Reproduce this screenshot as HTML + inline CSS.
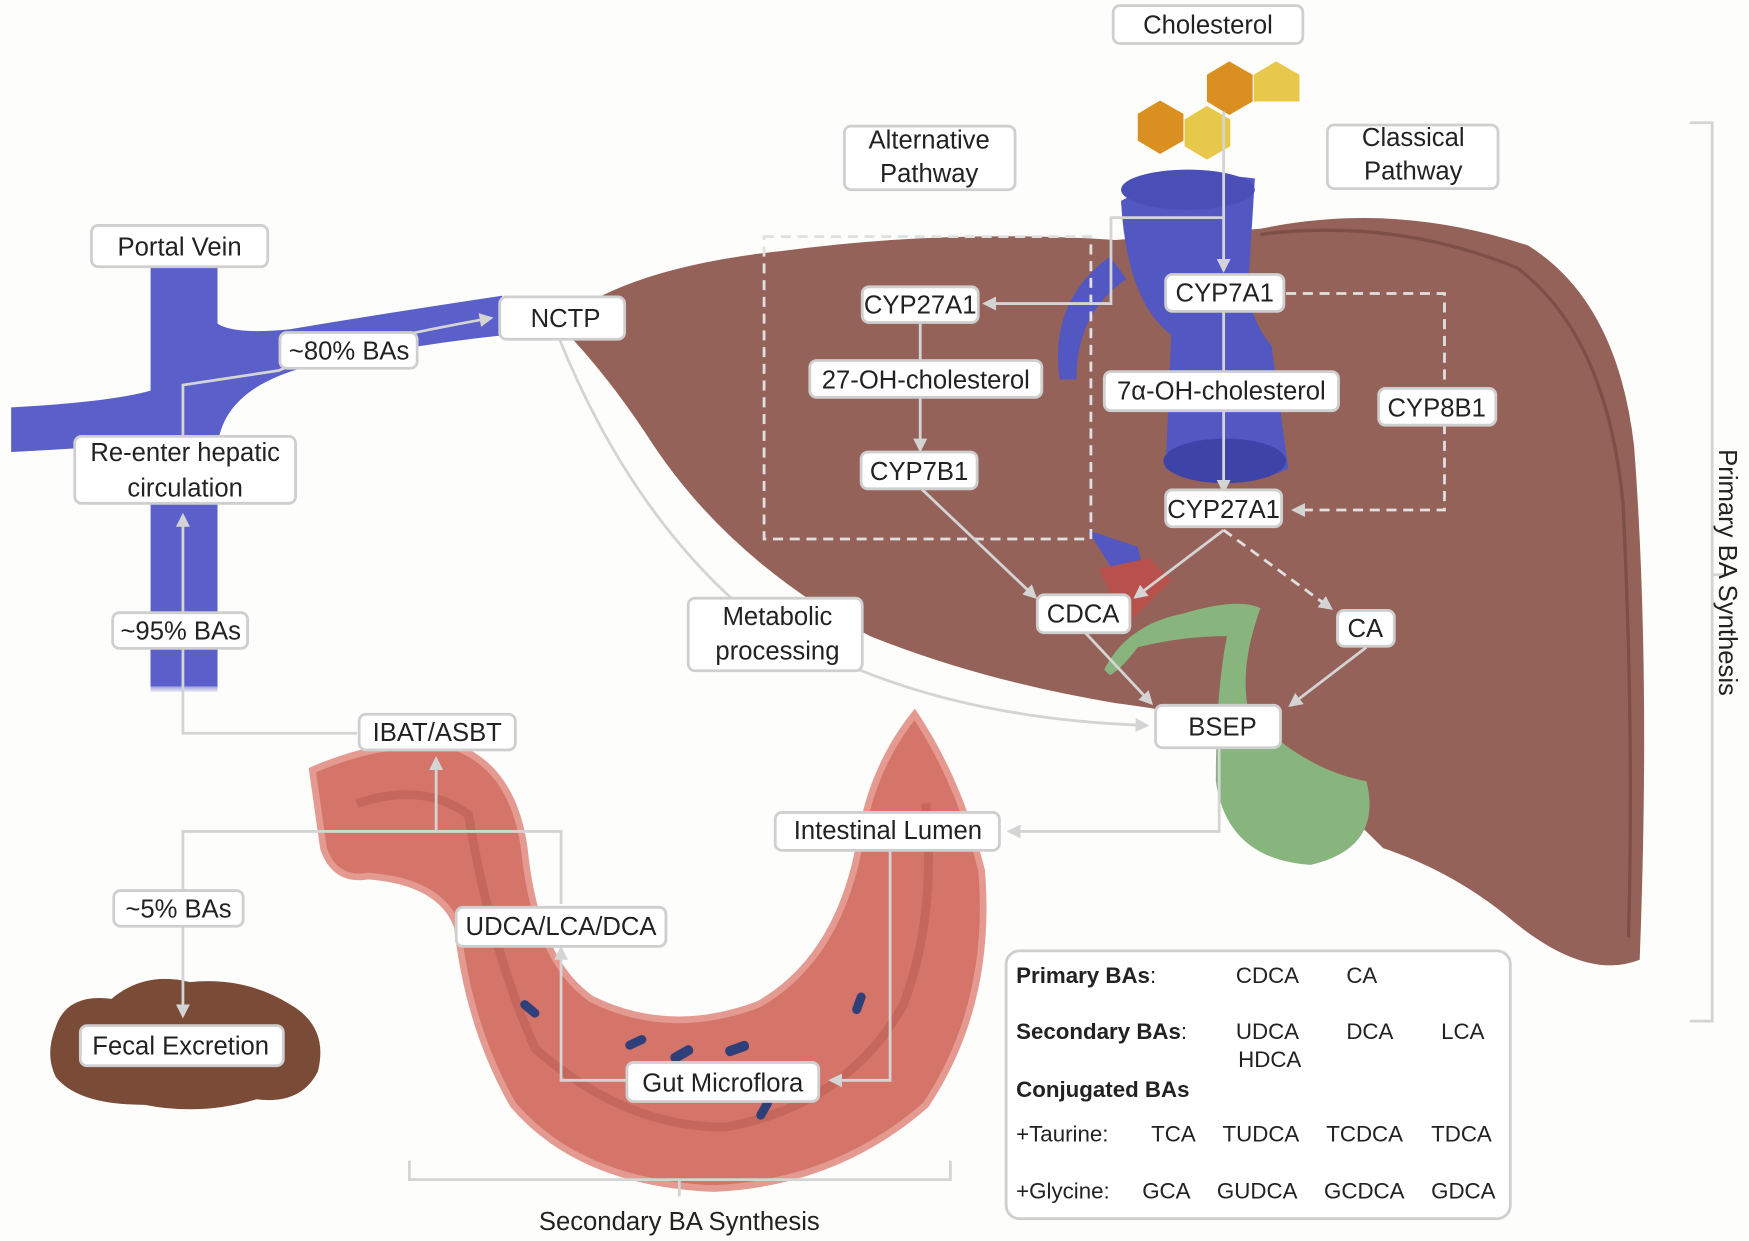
<!DOCTYPE html>
<html><head><meta charset="utf-8"><style>
html,body{margin:0;padding:0;background:#fdfdfb;}
svg{display:block;}
text{font-family:"Liberation Sans",sans-serif;fill:#222;}
.b{fill:#fff;stroke:#cfcfcf;stroke-width:2.5;}
.l{stroke:#d4d4d4;stroke-width:2.5;fill:none;}
.d{stroke:#e0e0e0;stroke-width:2.5;fill:none;stroke-dasharray:9 6;}
.t{font-size:23px;text-anchor:middle;}
.s{font-size:20px;}
</style></head><body>
<svg width="1749" height="1241" viewBox="0 0 1568 1112" preserveAspectRatio="none" xmlns="http://www.w3.org/2000/svg">
<defs>
<marker id="a" viewBox="0 0 10 10" refX="8" refY="5" markerWidth="5" markerHeight="5" orient="auto"><path d="M0,0L10,5L0,10z" fill="#d4d4d4"/></marker>
<linearGradient id="vf" x1="0" x2="1"><stop offset="0" stop-color="#5b5fc9" stop-opacity="0.2"/><stop offset="0.15" stop-color="#5b5fc9"/></linearGradient>
<linearGradient id="vb" x1="0" y1="0" x2="0" y2="1"><stop offset="0.85" stop-color="#5b5fc9"/><stop offset="1" stop-color="#5b5fc9" stop-opacity="0.1"/></linearGradient>
</defs>
<rect width="1568" height="1112" fill="#fdfdfb"/>
<!-- portal vein -->
<path d="M135,240 L195,240 L195,290 Q210,300 260,295 Q350,280 450,265 L455,300 Q360,310 270,330 Q200,350 195,400 L195,615 L135,615 L135,395 Q110,400 10,405 L10,365 Q100,360 135,350 Z" fill="#5b5fc9"/>
<rect x="135" y="560" width="60" height="60" fill="url(#vb)"/>
<!-- liver -->
<path d="M500,290 Q560,240 700,225 Q850,205 1000,215 L1130,205 Q1250,180 1370,220 Q1450,270 1465,400 Q1480,600 1470,860 Q1420,880 1350,820 Q1300,780 1240,760 Q1180,700 1130,660 Q1080,640 1000,630 Q880,610 780,570 Q650,500 580,390 Q540,330 500,290 Z" fill="#95625a"/>
<path d="M1130,210 Q1250,195 1360,240 Q1440,300 1455,450 Q1465,650 1460,840" fill="none" stroke="#7d4f47" stroke-width="3"/>
<!-- vena cava -->
<path d="M1005,180 Q1060,150 1125,160 L1120,240 Q1115,280 1140,310 L1155,420 Q1100,445 1045,420 L1050,300 Q1010,270 1005,180 Z" fill="#5257c2"/>
<ellipse cx="1065" cy="170" rx="60" ry="18" fill="#4a4fb8"/>
<path d="M995,230 Q940,270 950,340 L965,340 Q965,280 1010,250 Z" fill="#5257c2"/>
<ellipse cx="1098" cy="413" rx="55" ry="20" fill="#3e43a8"/>
<path d="M975,475 L1020,490 L1030,530 L1010,530 Z" fill="#5257c2"/>
<path d="M985,510 L1010,560 L1050,520 L1030,500 Z" fill="#b8504b"/>
<!-- gallbladder -->
<path d="M990,600 Q1010,560 1060,550 Q1110,535 1130,545 Q1110,600 1120,640 Q1170,690 1225,700 Q1240,760 1175,775 Q1100,770 1090,700 Q1090,620 1100,570 Q1060,570 1020,580 Q1005,600 995,605 Z" fill="#88b47e"/>
<!-- cholesterol hexes -->
<g>
<polygon points="1040,90 1061,102 1061,126 1040,138 1020,126 1020,102" fill="#d99020"/>
<polygon points="1082,95 1103,107 1103,131 1082,143 1062,131 1062,107" fill="#e8c84a"/>
<polygon points="1102,55 1123,67 1123,91 1102,103 1082,91 1082,67" fill="#d99020"/>
<polygon points="1144,55 1165,67 1165,91 1144,91 1124,91 1124,67" fill="#e8c84a"/>
</g>
<!-- intestine -->
<path d="M280,690 Q350,660 410,670 Q460,690 470,760 Q480,860 530,895 Q600,930 680,900 Q750,860 770,760 Q780,690 820,640 Q860,700 880,780 Q890,900 830,990 Q750,1060 640,1065 Q520,1060 460,990 Q420,920 410,830 Q395,790 330,785 Q300,790 290,760 Z" fill="#d5756a" stroke="#e49a90" stroke-width="6"/>
<path d="M320,720 Q380,700 420,730 Q440,850 480,940 Q560,1010 650,1010 Q760,990 810,900 Q840,820 830,720" fill="none" stroke="#b85a50" stroke-width="8" opacity=".5"/>
<!-- bacteria -->
<g fill="#2e3f7a">
<rect x="600" y="940" width="22" height="9" rx="4" transform="rotate(-30 611 944)"/>
<rect x="650" y="935" width="22" height="9" rx="4" transform="rotate(-20 661 940)"/>
<rect x="560" y="930" width="20" height="8" rx="4" transform="rotate(-25 570 934)"/>
<rect x="465" y="900" width="20" height="8" rx="4" transform="rotate(40 475 904)"/>
<rect x="760" y="895" width="20" height="8" rx="4" transform="rotate(-70 770 899)"/>
<rect x="675" y="990" width="20" height="8" rx="4" transform="rotate(-60 685 994)"/>
</g>
<!-- feces -->
<path d="M50,920 Q60,890 100,895 Q130,870 170,880 Q220,875 260,900 Q295,920 285,960 Q270,990 230,985 Q180,1000 130,990 Q70,990 50,965 Q40,945 50,920 Z" fill="#7a4c38"/>
<!-- brackets -->
<path d="M1515,110 L1535,110 L1535,915 L1515,915 M1535,515 L1550,515" class="l"/>
<path d="M367,1040 L367,1057 L852,1057 L852,1040 M609,1057 L609,1072" class="l"/>
<!-- dashed boxes -->
<path d="M685,212 L978,212 L978,483 L685,483 Z" class="d"/>
<path d="M1153,263 L1295,263 L1295,340 M1295,380 L1295,457 L1160,457" class="d" marker-end="url(#a)"/>
<path d="M1097,475 L1193,545" class="d" marker-end="url(#a)"/>
<!-- connectors -->
<g class="l">
<path d="M1097,100 L1097,242" marker-end="url(#a)"/>
<path d="M1097,280 L1097,440" marker-end="url(#a)"/>
<path d="M1097,195 L996,195 L996,272 L883,272" marker-end="url(#a)"/>
<path d="M825,290 L825,403" marker-end="url(#a)"/>
<path d="M825,437 L928,535" marker-end="url(#a)"/>
<path d="M1097,475 L1018,535" marker-end="url(#a)"/>
<path d="M973,567 L1032,630" marker-end="url(#a)"/>
<path d="M1225,580 L1157,632" marker-end="url(#a)"/>
<path d="M500,300 Q560,450 660,540"/>
<path d="M770,600 Q880,645 1028,650" marker-end="url(#a)"/>
<path d="M1093,670 L1093,745 L905,745" marker-end="url(#a)"/>
<path d="M798,762 L798,968 L745,968" marker-end="url(#a)"/>
<path d="M563,968 L503,968 L503,850" marker-end="url(#a)"/>
<path d="M503,810 L503,745 L164,745 L164,910" marker-end="url(#a)"/>
<path d="M391,745 L391,680" marker-end="url(#a)"/>
<path d="M320,657 L164,657 L164,462" marker-end="url(#a)"/>
<path d="M164,392 L164,345 L250,332 Q300,310 440,285" marker-end="url(#a)"/>
</g>
<!-- labels -->
<g>
<rect class="b" x="998" y="5" width="170" height="34" rx="6"/><text class="t" x="1083" y="30">Cholesterol</text>
<rect class="b" x="757" y="113" width="153" height="57" rx="6"/><text class="t" x="833" y="133">Alternative</text><text class="t" x="833" y="163">Pathway</text>
<rect class="b" x="1190" y="112" width="153" height="57" rx="6"/><text class="t" x="1267" y="131">Classical</text><text class="t" x="1267" y="161">Pathway</text>
<rect class="b" x="82" y="202" width="158" height="37" rx="6"/><text class="t" x="161" y="229">Portal Vein</text>
<rect class="b" x="448" y="266" width="112" height="38" rx="6"/><text class="t" x="507" y="293">NCTP</text>
<rect class="b" x="251" y="298" width="123" height="32" rx="6"/><text class="t" x="313" y="322">~80% BAs</text>
<rect class="b" x="67" y="391" width="198" height="60" rx="6"/><text class="t" x="166" y="413">Re-enter hepatic</text><text class="t" x="166" y="445">circulation</text>
<rect class="b" x="101" y="549" width="121" height="32" rx="6"/><text class="t" x="162" y="573">~95% BAs</text>
<rect class="b" x="773" y="257" width="104" height="32" rx="6"/><text class="t" x="825" y="281">CYP27A1</text>
<rect class="b" x="1045" y="246" width="106" height="33" rx="6"/><text class="t" x="1098" y="270">CYP7A1</text>
<rect class="b" x="726" y="323" width="208" height="33" rx="6"/><text class="t" x="830" y="348">27-OH-cholesterol</text>
<rect class="b" x="990" y="333" width="210" height="35" rx="6"/><text class="t" x="1095" y="358">7α-OH-cholesterol</text>
<rect class="b" x="1236" y="348" width="105" height="33" rx="6"/><text class="t" x="1288" y="373">CYP8B1</text>
<rect class="b" x="772" y="405" width="104" height="33" rx="6"/><text class="t" x="824" y="430">CYP7B1</text>
<rect class="b" x="1045" y="439" width="104" height="33" rx="6"/><text class="t" x="1097" y="464">CYP27A1</text>
<rect class="b" x="930" y="533" width="83" height="34" rx="6"/><text class="t" x="971" y="558">CDCA</text>
<rect class="b" x="1199" y="547" width="51" height="32" rx="6"/><text class="t" x="1224" y="571">CA</text>
<rect class="b" x="617" y="536" width="156" height="65" rx="6"/><text class="t" x="697" y="560">Metabolic</text><text class="t" x="697" y="591">processing</text>
<rect class="b" x="1036" y="632" width="112" height="38" rx="6"/><text class="t" x="1096" y="659">BSEP</text>
<rect class="b" x="322" y="640" width="140" height="32" rx="6"/><text class="t" x="392" y="664">IBAT/ASBT</text>
<rect class="b" x="695" y="728" width="201" height="34" rx="6"/><text class="t" x="796" y="752">Intestinal Lumen</text>
<rect class="b" x="102" y="798" width="116" height="32" rx="6"/><text class="t" x="160" y="822">~5% BAs</text>
<rect class="b" x="409" y="813" width="188" height="35" rx="6"/><text class="t" x="503" y="838">UDCA/LCA/DCA</text>
<rect class="b" x="72" y="919" width="182" height="36" rx="6"/><text class="t" x="162" y="945">Fecal Excretion</text>
<rect class="b" x="562" y="952" width="172" height="35" rx="6"/><text class="t" x="648" y="978">Gut Microflora</text>
</g>
<text class="t" x="609" y="1102">Secondary BA Synthesis</text>
<text class="t" transform="translate(1541,513) rotate(90)">Primary BA Synthesis</text>
<!-- table -->
<rect class="b" x="902" y="852" width="452" height="240" rx="12"/>
<g class="s">
<text x="911" y="881" font-weight="bold" font-size="20">Primary BAs<tspan font-weight="normal">:</tspan></text>
<text x="1108" y="881">CDCA</text><text x="1207" y="881">CA</text>
<text x="911" y="931" font-weight="bold" font-size="20">Secondary BAs<tspan font-weight="normal">:</tspan></text>
<text x="1108" y="931">UDCA</text><text x="1207" y="931">DCA</text><text x="1292" y="931">LCA</text>
<text x="1110" y="956">HDCA</text>
<text x="911" y="983" font-weight="bold" font-size="20">Conjugated BAs</text>
<text x="911" y="1023">+Taurine:</text><text x="1032" y="1023">TCA</text><text x="1096" y="1023">TUDCA</text><text x="1189" y="1023">TCDCA</text><text x="1283" y="1023">TDCA</text>
<text x="911" y="1074">+Glycine:</text><text x="1024" y="1074">GCA</text><text x="1091" y="1074">GUDCA</text><text x="1187" y="1074">GCDCA</text><text x="1283" y="1074">GDCA</text>
</g>
</svg>
</body></html>
